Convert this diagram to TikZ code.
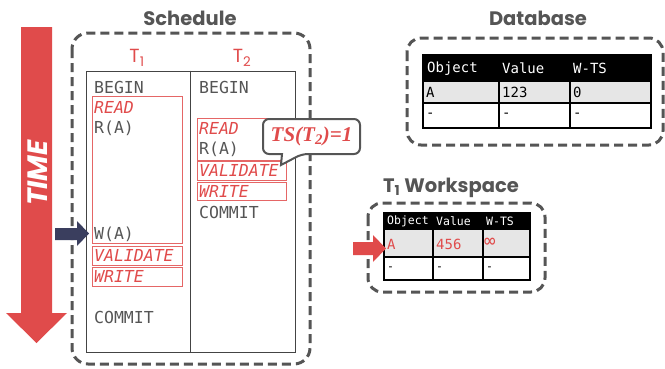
\documentclass[tikz,border=0pt]{standalone}
\usepackage{fontspec}
\setmainfont{Poppins}
\newfontfamily\monof{DejaVu Sans Mono}
\newfontfamily\serifb{Liberation Serif}
\definecolor{cred}{HTML}{E04B4B}
\definecolor{cgray}{HTML}{555555}
\definecolor{cnavy}{HTML}{3A3E5E}
\definecolor{crow}{HTML}{E6E6E6}
\tikzset{
  dashbox/.style={draw=cgray, line width=3pt, dash pattern=on 9pt off 5pt, rounded corners=14pt},
  titletext/.style={text=cgray, font=\fontsize{19.5}{20}\selectfont\bfseries},
  tlabel/.style={text=cred, font=\fontsize{19}{19}\selectfont},
  mono/.style={font=\monof\fontsize{16.5}{16.5}\selectfont, text=cgray, anchor=west, inner sep=0pt},
  redmono/.style={mono, text=cred, font=\monof\itshape\fontsize{16.5}{16.5}\selectfont},
  rbox/.style={draw=cred!85, line width=0.9pt, inner sep=0pt},
  hdr/.style={font=\monof\fontsize{14}{14}\selectfont, text=white, anchor=west, inner sep=0pt},
  cell/.style={font=\monof\fontsize{14}{14}\selectfont, text=black, anchor=west, inner sep=0pt},
  whdr/.style={font=\monof\fontsize{11.5}{11.5}\selectfont, text=white, anchor=west, inner sep=0pt},
  wcell/.style={font=\monof\fontsize{14}{14}\selectfont, text=cred, anchor=west, inner sep=0pt},
  wdash/.style={font=\monof\fontsize{11.5}{11.5}\selectfont, text=black, anchor=west, inner sep=0pt},
  grid/.style={draw=black, line width=1.3pt},
}
\begin{document}
\begin{tikzpicture}[x=1pt,y=-1pt]
\useasboundingbox (0,0) rectangle (665,368);

% TIME arrow
\fill[cred] (21,27) -- (52,27) -- (52,313) -- (67,313) -- (36.5,343) -- (6,313) -- (21,313) -- cycle;
\node[rotate=90, text=white, font=\fontsize{28}{28}\selectfont\bfseries\itshape] (time) at (38,173) {TIME};

% Schedule
\node[titletext] (schedtitle) at (190,18) {Schedule};
\draw[dashbox, rounded corners=16pt] (72,33) rectangle (310,364);
\node[tlabel] (t1) at (137,58) {T\textsubscript{1}};
\node[tlabel] (t2) at (242,58) {T\textsubscript{2}};
\node[draw=cgray!80!black, line width=0.9pt, minimum width=209pt, minimum height=281pt, inner sep=0pt] (sched) at (190.5,211.5) {};
\draw[cgray!80!black, line width=0.9pt] (sched.north) -- (sched.south);

% column 1
\node[mono] (b1) at (94,87) {BEGIN};
\node[rbox, minimum width=90pt, minimum height=147pt] (read1) at (137,169.5) {};
\node[redmono] (read1t) at (94,107) {READ};
\node[mono] (ra1) at (94,128) {R(A)};
\node[mono] (wa1) at (94,234) {W(A)};
\node[rbox, minimum width=90pt, minimum height=19pt] (val1) at (137,255.5) {};
\node[redmono] (val1t) at (94,255.5) {VALIDATE};
\node[rbox, minimum width=90pt, minimum height=19pt] (wr1) at (137,276.5) {};
\node[redmono] (wr1t) at (94,276.5) {WRITE};
\node[mono] (c1) at (94,317) {COMMIT};

% column 2
\node[mono] (b2) at (199,87) {BEGIN};
\node[rbox, minimum width=89pt, minimum height=42pt] (read2) at (241.5,139) {};
\node[redmono] (read2t) at (199,128) {READ};
\node[mono] (ra2) at (199,149.5) {R(A)};
\node[rbox, minimum width=89pt, minimum height=19pt] (val2) at (241.5,170.5) {};
\node[redmono] (val2t) at (199,170.5) {VALIDATE};
\node[rbox, minimum width=89pt, minimum height=18pt] (wr2) at (241.5,191) {};
\node[redmono] (wr2t) at (199,191) {WRITE};
\node[mono] (c2) at (199,212) {COMMIT};

% callout
\draw[cgray, line width=2pt, fill=white, rounded corners=6pt] (263,119) -- (360,119) -- (360,154) -- (302,154) [sharp corners] -- (281,165) -- (282,154) [rounded corners=6pt] -- (263,154) -- cycle;
\node[text=cred, font=\serifb\bfseries\itshape\fontsize{21}{21}\selectfont] (ts) at (311.5,136.5) {TS(T\textsubscript{2})=1};

% navy arrow
\fill[cnavy] (55,228) -- (77,228) -- (77,221) -- (89,233.5) -- (77,246) -- (77,240) -- (55,240) -- cycle;

% Database
\node[titletext] (dbtitle) at (538,18) {Database};
\draw[dashbox] (407,38) rectangle (663,145);
\fill[black] (423,55) rectangle (651,82);
\fill[crow] (423,82) rectangle (651,103);
\draw[grid] (423,55) rectangle (651,128);
\draw[grid] (423,103) -- (651,103);
\draw[grid] (499,55) -- (499,128);
\draw[grid] (570,55) -- (570,128);
\node[hdr] (dbh1) at (427,68.5) {Object};
\node[hdr] (dbh2) at (502,68.5) {Value};
\node[hdr] (dbh3) at (573,68.5) {W-TS};
\node[cell] (dba) at (426,92.5) {A};
\node[cell] (dbv) at (502,92.5) {123};
\node[cell] (dbw) at (573,92.5) {0};
\node[cell] (dbd1) at (426,115.5) {-};
\node[cell] (dbd2) at (502,115.5) {-};
\node[cell] (dbd3) at (573,115.5) {-};

% Workspace
\node[titletext] (wstitle) at (451,188) {T\textsubscript{1} Workspace};
\draw[dashbox] (368,203) rectangle (545,292);
\fill[black] (384,213) rectangle (530,230);
\fill[crow] (384,230) rectangle (530,257);
\draw[grid] (384,213) rectangle (530,280);
\draw[grid] (384,257) -- (530,257);
\draw[grid] (433,213) -- (433,280);
\draw[grid] (483,213) -- (483,280);
\node[whdr] (wsh1) at (387,221.5) {Object};
\node[whdr] (wsh2) at (436,221.5) {Value};
\node[whdr] (wsh3) at (486,221.5) {W-TS};
\node[wcell] (wsa) at (387,244) {A};
\node[wcell] (wsv) at (436,244) {456};
\node[wcell, font=\monof\fontsize{19}{19}\selectfont] (wsw) at (484,242.5) {∞};
\node[wdash] (wsd1) at (387,268.5) {-};
\node[wdash] (wsd2) at (436,268.5) {-};
\node[wdash] (wsd3) at (486,268.5) {-};

% red arrow
\fill[cred] (353,242) -- (373,242) -- (373,235) -- (386,248.5) -- (373,262) -- (373,255) -- (353,255) -- cycle;
\end{tikzpicture}
\end{document}
